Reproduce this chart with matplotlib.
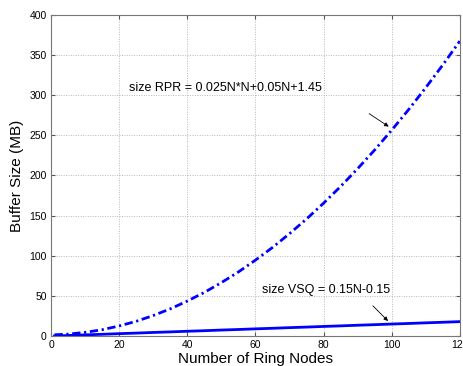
import numpy as np
import matplotlib.pyplot as plt

plt.rcParams['font.family'] = ['Liberation Sans', 'DejaVu Sans']

# values
nodes = [1, 5, 10, 15, 20, 25, 30, 35, 40, 45, 50, 55, 60, 65, 70, 75,
         80, 85, 90, 95, 100, 105, 110, 115, 120]
size_rpr = [1.5, 2.3, 4.5, 7.8, 12.5, 18.3, 25.5, 33.8, 43.5, 54.3, 66.5,
            79.8, 94.5, 110.3, 127.5, 145.8, 165.5, 186.3, 208.5, 231.8,
            256.5, 282.3, 309.5, 337.8, 367.5]
size_vsq = [0.0, 0.6, 1.4, 2.1, 2.9, 3.6, 4.4, 5.1, 5.9, 6.6, 7.4, 8.1,
            8.9, 9.6, 10.4, 11.1, 11.9, 12.6, 13.4, 14.1, 14.9, 15.6,
            16.4, 17.1, 17.9]

fig = plt.figure(figsize=(4.64, 3.66), dpi=100)
ax = fig.add_axes([0.110, 0.082, 0.881, 0.877])

ax.plot(nodes, size_rpr, color='#0000ff', linestyle=(0, (3, 1.3, 0.8, 1.3)), lw=2.0)
ax.plot(nodes, size_vsq, color='#0000ff', linestyle='-', lw=2.0)

ax.set_xlim(0, 120)
ax.set_ylim(0, 400)
ax.set_xticks(np.arange(0, 121, 20))
ax.set_yticks(np.arange(0, 401, 50))
ax.grid(True, linestyle=(0, (1, 1.5)), color='#b8b8b8', lw=0.7)
ax.tick_params(direction='in', top=True, right=True, labelsize=7.5,
               length=3, color='#555555', pad=3)
for s in ax.spines.values():
    s.set_color('#777777')
    s.set_linewidth(0.8)

ax.set_xlabel('Number of Ring Nodes', fontsize=11, labelpad=1)
ax.set_ylabel('Buffer Size (MB)', fontsize=11, labelpad=4)

ax.annotate('size RPR = 0.025N*N+0.05N+1.45', xy=(99.8, 259), xytext=(22.9, 309),
            fontsize=9, va='center', ha='left')
ax.annotate('', xy=(99.8, 259), xytext=(92.7, 279),
            arrowprops=dict(arrowstyle='-|>', color='black', lw=0.6,
                            mutation_scale=6))
ax.text(61.9, 57, 'size VSQ = 0.15N-0.15', fontsize=9, va='center', ha='left')
ax.annotate('', xy=(99.5, 16.2), xytext=(93.9, 40),
            arrowprops=dict(arrowstyle='-|>', color='black', lw=0.6,
                            mutation_scale=6))

fig.savefig('out.png', dpi=100)
